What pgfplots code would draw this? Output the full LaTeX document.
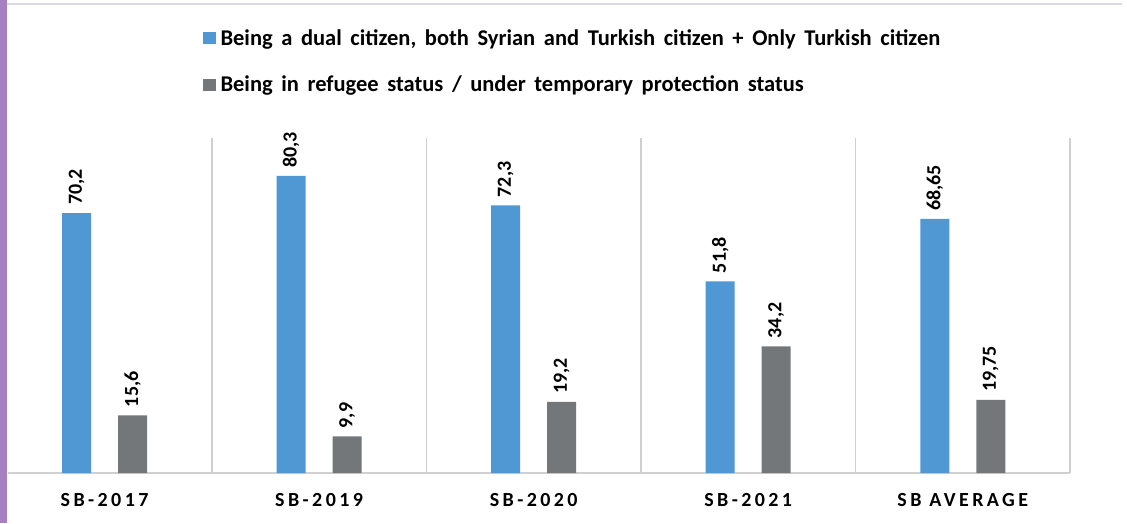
\documentclass[border=0pt]{standalone}
\usepackage{fontspec}
\setmainfont{Carlito}
\usepackage{pgfplots}
\pgfplotsset{compat=1.18}
\definecolor{cblue}{RGB}{80,152,212}
\definecolor{cgray}{RGB}{116,119,121}
\definecolor{cpurple}{RGB}{166,128,192}
\definecolor{cgrid}{RGB}{208,208,208}
\definecolor{ctop}{RGB}{218,218,222}
\newcommand\legfont{\fontsize{22.5}{26}\selectfont\bfseries\spaceskip=8.6pt\relax}
\begin{document}
\begin{tikzpicture}[x=1pt,y=1pt]
\useasboundingbox (0,0) rectangle (1127,523);
\fill[white] (0,0) rectangle (1127,523);
\fill[cpurple] (0,0) rectangle (7,523);
\draw[line width=2pt, ctop] (7,519) -- (1122,519);
\begin{axis}[
  at={(8pt,50pt)}, anchor=south west,
  scale only axis, width=1062pt, height=335pt,
  xmin=-0.45, xmax=4.5, ymin=0, ymax=90.5,
  ybar, bar width=29pt,
  axis y line=none,
  axis x line*=bottom,
  x axis line style={cgrid, line width=1.5pt, -},
  xtick={0,1,2,3,4},
  xticklabels={SB-2017,SB-2019,SB-2020,SB-2021,SB AVERAGE},
  major tick length=0pt,
  minor xtick={0.5,1.5,2.5,3.5,4.5},
  minor tick length=0pt,
  xminorgrids,
  minor grid style={cgrid, line width=1.5pt},
  xticklabel style={font=\fontsize{20}{24}\selectfont\bfseries\addfontfeatures{LetterSpace=17}, yshift=-17pt},
  nodes near coords,
  every node near coord/.append style={rotate=90, anchor=west, font=\fontsize{20}{24}\selectfont\bfseries, text=black, inner sep=8pt},
  /pgf/number format/.cd, use comma, assume math mode=true, precision=2, /pgfplots/.cd,
  legend style={at={(0.183,1.333)}, anchor=north west, draw=none, fill=none,
    font=\legfont,
    row sep=23pt, inner sep=0pt, nodes={inner xsep=5pt, inner ysep=3pt}},
  legend cell align=left,
  legend image code/.code={\fill[#1] (0pt,-6pt) rectangle (13pt,6pt);},
  clip=false,
]
\addplot[fill=cblue, draw=none, bar shift=-28pt] coordinates {(0,70.2) (1,80.3) (2,72.3) (3,51.8) (4,68.65)};
\addlegendentry{Being a dual citizen, both Syrian and Turkish citizen + Only Turkish citizen}
\addplot[fill=cgray, draw=none, bar shift=28pt] coordinates {(0,15.6) (1,9.9) (2,19.2) (3,34.2) (4,19.75)};
\addlegendentry{Being in refugee status / under temporary protection status}
\end{axis}
\end{tikzpicture}
\end{document}
